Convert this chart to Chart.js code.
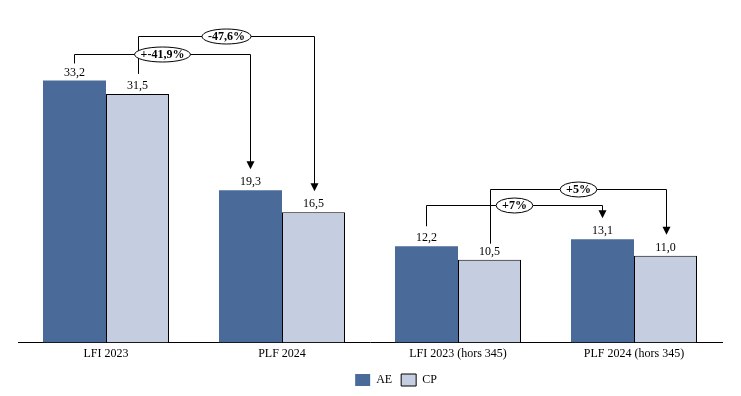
<!DOCTYPE html>
<html>
<head>
<meta charset="utf-8">
<script src="https://cdn.jsdelivr.net/npm/chart.js@4"></script>
<style>
  html, body { margin: 0; padding: 0; background: #fff; }
  canvas { display: block; }
</style>
</head>
<body>
<canvas id="chart" width="741" height="396"></canvas>
<script>
const categories = ["LFI 2023", "PLF 2024", "LFI 2023 (hors 345)", "PLF 2024 (hors 345)"];
const aeValues = [33.2, 19.3, 12.2, 13.1];
const cpValues = [31.5, 16.5, 10.5, 11.0];
const variationLabels = ["+-41,9%", "-47,6%", "+7%", "+5%"];

const FONT = "'Liberation Serif', 'DejaVu Serif', serif";

// arrows between bars: [datasetIndex, fromIndex, toIndex, level (y value), start gap px]
const arrows = [
  [0, 0, 1, 36.6, 17],
  [1, 0, 1, 38.8, 20],
  [0, 2, 3, 17.4, 20],
  [1, 2, 3, 19.5, 16]
];

function fmt(v) {
  return v.toFixed(1).replace(".", ",");
}

const valueLabels = {
  id: "valueLabels",
  afterDatasetsDraw(chart) {
    const ctx = chart.ctx;
    ctx.save();
    ctx.font = "12px " + FONT;
    ctx.fillStyle = "#000";
    ctx.textAlign = "center";
    ctx.textBaseline = "bottom";
    chart.data.datasets.forEach((ds, i) => {
      chart.getDatasetMeta(i).data.forEach((bar, j) => {
        ctx.fillText(fmt(ds.data[j]), bar.x, bar.y - 2);
      });
    });
    ctx.restore();
  }
};

const variationArrows = {
  id: "variationArrows",
  afterDraw(chart) {
    const ctx = chart.ctx;
    const y = chart.scales.y;
    ctx.save();
    ctx.strokeStyle = "#000";
    ctx.fillStyle = "#000";
    ctx.lineWidth = 1;
    const ells = [];
    arrows.forEach((a, k) => {
      const meta = chart.getDatasetMeta(a[0]);
      const from = meta.data[a[1]];
      const to = meta.data[a[2]];
      const x1 = Math.round(from.x) + 0.5;
      const x2 = Math.round(to.x) + 0.5;
      const ly = Math.round(y.getPixelForValue(a[3])) + 0.5;
      const y1 = from.y - a[4];
      const tip = to.y - 21;
      ctx.beginPath();
      ctx.moveTo(x1, y1);
      ctx.lineTo(x1, ly);
      ctx.lineTo(x2, ly);
      ctx.lineTo(x2, tip - 7);
      ctx.stroke();
      ctx.beginPath();
      ctx.moveTo(x2 - 4, tip - 8);
      ctx.lineTo(x2 + 4, tip - 8);
      ctx.lineTo(x2, tip);
      ctx.closePath();
      ctx.fill();
      ells.push([(x1 + x2) / 2, ly, variationLabels[k]]);
    });
    ctx.font = "bold 12px " + FONT;
    ctx.textAlign = "center";
    ctx.textBaseline = "middle";
    ells.forEach(e => {
      const w = ctx.measureText(e[2]).width;
      ctx.beginPath();
      ctx.ellipse(e[0], e[1], w / 2 + 6, 7.5, 0, 0, Math.PI * 2);
      ctx.fillStyle = "#fff";
      ctx.fill();
      ctx.stroke();
      ctx.fillStyle = "#000";
      ctx.fillText(e[2], e[0], e[1] + 0.5);
    });
    ctx.restore();
  }
};

// the legend sits a little right of centre in the original
const legendShift = {
  id: "legendShift",
  afterLayout(chart) {
    chart.legend.left += 26;
    chart.legend.right += 26;
  }
};

new Chart(document.getElementById("chart"), {
  type: "bar",
  data: {
    labels: categories,
    datasets: [
      {
        label: "AE",
        data: aeValues,
        backgroundColor: "#4a6a9a",
        borderColor: "#4a6a9a",
        borderWidth: 0
      },
      {
        label: "CP",
        data: cpValues,
        backgroundColor: "#c5cee0",
        borderColor: "#000",
        borderWidth: 1
      }
    ]
  },
  options: {
    responsive: false,
    animation: false,
    layout: { padding: { left: 18, right: 19, top: 11, bottom: 0 } },
    datasets: { bar: { categoryPercentage: 0.716, barPercentage: 1 } },
    scales: {
      x: {
        grid: { display: false, drawTicks: false },
        border: { display: true, color: "#000", width: 1 },
        ticks: { color: "#000", font: { family: FONT, size: 12 }, padding: 4 }
      },
      y: {
        display: false,
        min: 0,
        max: 42
      }
    },
    plugins: {
      legend: {
        position: "bottom",
        labels: {
          color: "#000",
          font: { family: FONT, size: 12 },
          boxWidth: 15,
          boxHeight: 12,
          padding: 9
        }
      },
      tooltip: { enabled: false }
    }
  },
  plugins: [valueLabels, variationArrows, legendShift]
});
</script>
</body>
</html>
